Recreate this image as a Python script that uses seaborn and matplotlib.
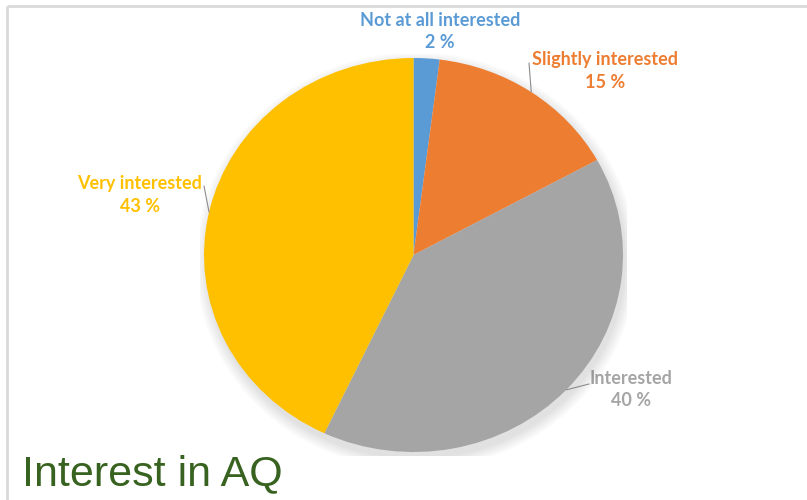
import matplotlib
matplotlib.use("Agg")
import numpy as np
import matplotlib.pyplot as plt
import seaborn as sns

# Chart data
categories = ["Not at all interested", "Slightly interested", "Interested", "Very interested"]
shares = [2, 15, 40, 43]
colors = ["#5B9BD5", "#ED7D31", "#A5A5A5", "#FFC000"]

# Label layout (pixel positions of label centres, top-left origin)
label_pos = {
    "Not at all interested": (440, 20),
    "Slightly interested": (605, 60),
    "Interested": (631, 378),
    "Very interested": (140, 183),
}
# where each leader line starts, next to the label (None = no line)
leader_start = {
    "Not at all interested": None,
    "Slightly interested": (529, 63),
    "Interested": (589, 384),
    "Very interested": (204, 186),
}

sns.set_theme(style="white")
plt.rcParams['font.family'] = ['Lato', 'DejaVu Sans']

W, H = 807, 500
fig = plt.figure(figsize=(W / 100, H / 100), dpi=100)
fig.patch.set_facecolor("white")

# Overlay axes in pixel coordinates for frame, title and labels
over = fig.add_axes([0, 0, 1, 1])
over.set_xlim(0, W)
over.set_ylim(H, 0)
over.axis("off")

# Pie axes, placed so the (slightly oval) pie spans the same area as the reference
left, right, top, bottom = 204, 623, 58, 452
ax = fig.add_axes([left / W, (H - bottom) / H, (right - left) / W, (bottom - top) / H])

# soft shadow under the pie
for i in range(10):
    s = 1.0 + 0.006 * i
    sh = matplotlib.patches.Ellipse((0.012, -0.03), 2 * s, 2 * s + 0.01,
                                    color="black", alpha=0.012, lw=0, zorder=0)
    ax.add_patch(sh)

wedges, _ = ax.pie(shares, colors=colors, startangle=90, counterclock=False,
                   wedgeprops=dict(linewidth=0), radius=1)
for w in wedges:
    w.set_zorder(2)
ax.set_xlim(-1.02, 1.02)
ax.set_ylim(-1.02, 1.02)
ax.set_aspect("auto")
ax.set_position([(left - 0.02 * (right - left) / 2) / W,
                 (H - bottom - 0.02 * (bottom - top) / 2) / H,
                 1.02 * (right - left) / W, 1.02 * (bottom - top) / H])
ax.axis("off")

for w, name, val, col in zip(wedges, categories, shares, colors):
    cx, cy = label_pos[name]
    over.text(cx, cy, name, ha="center", va="center", color=col,
              fontsize=13, fontweight="bold")
    over.text(cx, cy + 23, f"{val} %", ha="center", va="center", color=col,
              fontsize=13, fontweight="bold")
    start = leader_start[name]
    if start is not None:
        mid = np.deg2rad((w.theta1 + w.theta2) / 2)
        ax.annotate("", xy=(np.cos(mid), np.sin(mid)), xycoords="data",
                    xytext=(start[0], H - start[1]), textcoords="figure pixels",
                    arrowprops=dict(arrowstyle="-", color="#8c8c8c", lw=0.8,
                                    shrinkA=0, shrinkB=0), zorder=3)

# light frame (top and left edges visible)
over.plot([7, W], [6, 6], color="#d9d9d9", lw=2, solid_capstyle="butt")
over.plot([7, 7], [6, H], color="#d9d9d9", lw=2, solid_capstyle="butt")

# Title
over.text(22, 485, "Interest in AQ", ha="left", va="baseline", color="#38621F",
          fontsize=31, family=["Liberation Sans", "DejaVu Sans"])

fig.savefig("out.png", dpi=100, facecolor="white")
